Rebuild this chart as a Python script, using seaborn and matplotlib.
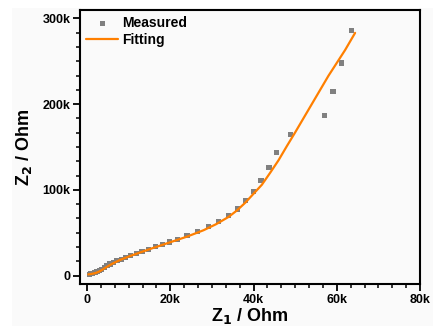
import matplotlib
matplotlib.use("Agg")
import matplotlib.pyplot as plt
import seaborn as sns
import pandas as pd
from matplotlib.ticker import FuncFormatter, AutoMinorLocator
from matplotlib.patches import Rectangle

# Measured data (Z1, Z2 in kOhm)
meas_z1 = [0.5, 0.9, 1.4, 1.9, 2.4, 2.9, 3.5, 4.1, 4.8, 5.5, 6.3, 7.2, 8.2, 9.3,
           10.5, 11.8, 13.2, 14.8, 16.4, 18.1, 19.9, 21.8, 24.0, 26.6, 29.2,
           31.6, 34.0, 36.1, 38.0, 39.9, 41.8, 43.7, 45.5, 48.9, 57.1, 59.1,
           61.2, 63.6]
meas_z2 = [1.8, 2.2, 2.8, 3.6, 4.6, 5.9, 7.6, 9.4, 11.5, 13.6, 15.5, 17.4, 19.3,
           21.4, 23.5, 25.7, 28.0, 30.8, 33.6, 36.4, 39.2, 42.3, 46.5, 51.5,
           57.0, 63.5, 70.4, 77.7, 87.4, 98.3, 111.2, 126.3, 143.8, 164.3,
           186.9, 214.9, 247.9, 285.5]

# Fitting curve (kOhm)
fit_z1 = [0.3, 1.0, 2.0, 3.0, 4.0, 5.0, 6.0, 8.0, 10.0, 13.0, 16.0, 20.0, 24.0,
          28.0, 31.0, 34.0, 36.0, 38.0, 40.0, 42.0, 44.0, 46.0, 48.0, 50.0,
          54.0, 58.0, 62.0, 64.4]
fit_z2 = [1.5, 2.0, 3.0, 5.0, 8.0, 11.0, 13.8, 18.5, 22.3, 27.5, 32.5, 39.0, 45.5,
          53.0, 60.0, 68.5, 76.0, 85.0, 95.5, 106.0, 120.0, 134.5, 151.0, 167.0,
          200.0, 233.0, 263.0, 283.0]

x_ticks = [0, 20, 40, 60, 80]
y_ticks = [0, 100, 200, 300]

sns.set_theme(style="ticks")
plt.rcParams['font.family'] = ['Liberation Sans', 'DejaVu Sans']
plt.rcParams['font.weight'] = 'bold'
plt.rcParams['text.color'] = 'black'
plt.rcParams['axes.labelcolor'] = 'black'
plt.rcParams['xtick.color'] = 'black'
plt.rcParams['ytick.color'] = 'black'

fig = plt.figure(figsize=(4.33, 3.26), dpi=100, facecolor='white')
fig.patches.append(Rectangle((12 / 433, 0), 1, 1 - 8 / 326, transform=fig.transFigure,
                             facecolor='#fafafa', edgecolor='none', zorder=-10))
ax = fig.add_axes([80 / 433, 1 - 284 / 326, 340 / 433, 274 / 326])
ax.set_facecolor('#fafafa')

df_m = pd.DataFrame({'Z1': [v * 1000 for v in meas_z1], 'Z2': [v * 1000 for v in meas_z2]})
df_f = pd.DataFrame({'Z1': [v * 1000 for v in fit_z1], 'Z2': [v * 1000 for v in fit_z2]})

sns.lineplot(data=df_f, x='Z1', y='Z2', sort=False, color='#ff7f00', lw=1.6,
             ax=ax, label='Fitting', zorder=3)
sns.scatterplot(data=df_m, x='Z1', y='Z2', marker='s', color='#808080', s=14,
                edgecolor='none', ax=ax, label='Measured', zorder=2)

ax.set_xlim(-1700, 80000)
ax.set_ylim(-9700, 309700)
ax.set_xticks([v * 1000 for v in x_ticks])
ax.set_yticks([v * 1000 for v in y_ticks])
fmt = FuncFormatter(lambda v, p: '0' if v == 0 else f'{int(round(v / 1000))}k')
ax.xaxis.set_major_formatter(fmt)
ax.yaxis.set_major_formatter(fmt)
ax.xaxis.set_minor_locator(AutoMinorLocator(6))
ax.yaxis.set_minor_locator(AutoMinorLocator(6))
ax.tick_params(which='major', direction='out', length=5, width=1.3, labelsize=9,
               pad=2, top=False, right=False, colors='black')
ax.tick_params(which='minor', direction='out', length=3, width=1.1, top=False,
               right=False, colors='black')
for lab in ax.get_xticklabels() + ax.get_yticklabels():
    lab.set_fontweight('bold')

for sp in ax.spines.values():
    sp.set_visible(True)
    sp.set_linewidth(1.5)
    sp.set_color('black')

ax.set_xlabel('Z$_\\mathbf{1}$ / Ohm', fontsize=13, fontweight='bold', labelpad=0,
              color='black')
ax.set_ylabel('Z$_\\mathbf{2}$ / Ohm', fontsize=13, fontweight='bold', labelpad=6,
              color='black')

handles, labels = ax.get_legend_handles_labels()
order = [labels.index('Measured'), labels.index('Fitting')]
leg = ax.legend([handles[i] for i in order], [labels[i] for i in order],
                loc='upper left', frameon=False, borderaxespad=0.1,
                borderpad=0.35, handlelength=2.3, handletextpad=0.3, labelspacing=0.2,
                prop={'weight': 'bold', 'size': 10})
for t in leg.get_texts():
    t.set_color('black')

fig.savefig('out.png', dpi=100, facecolor='white')
